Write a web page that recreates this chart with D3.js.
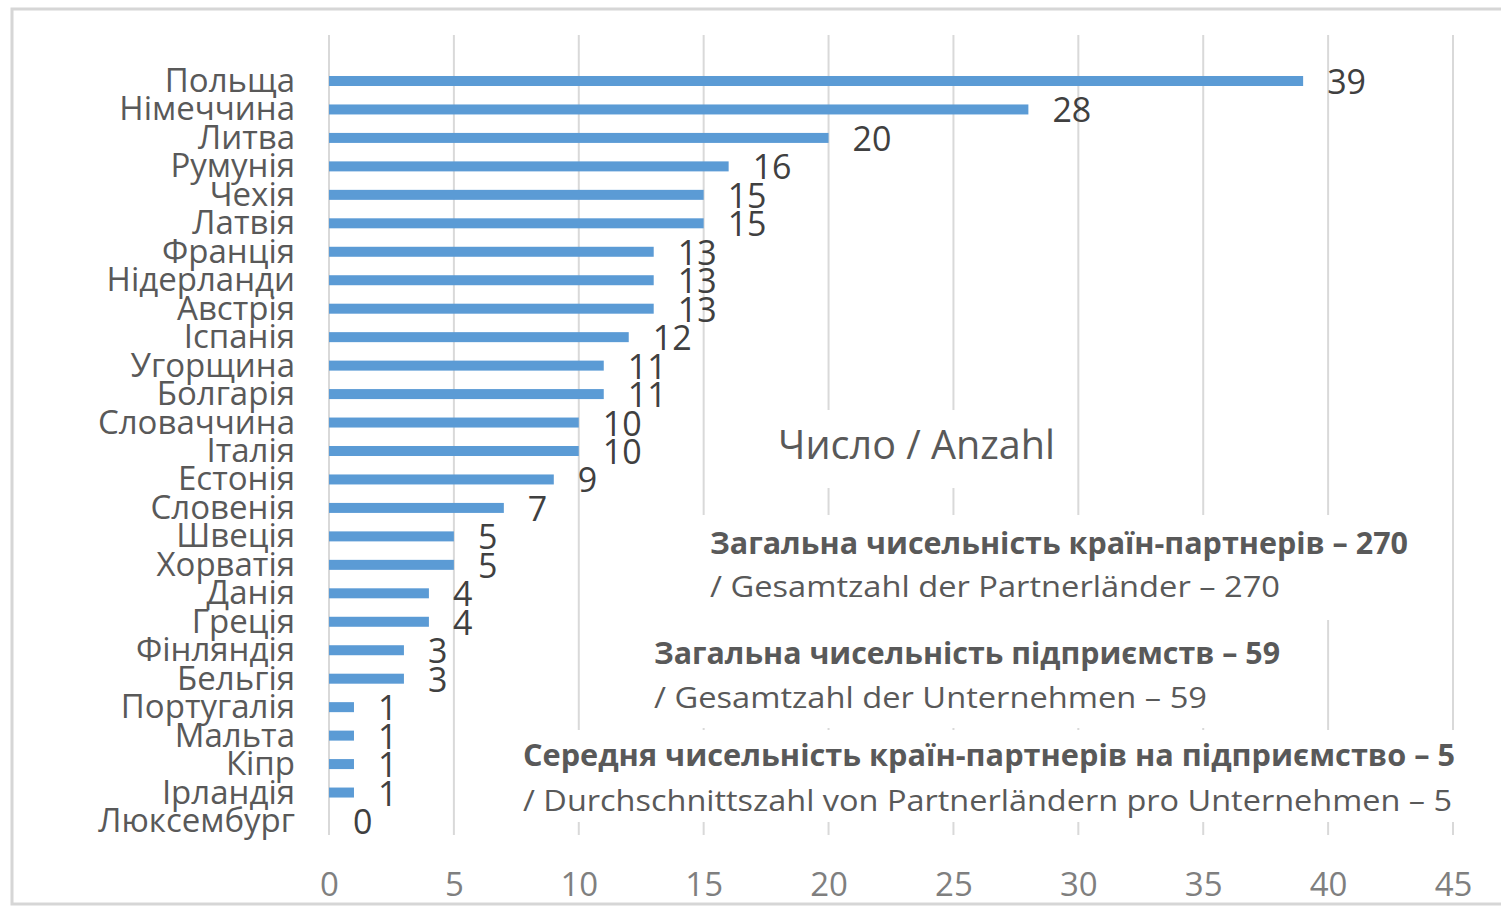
<!DOCTYPE html>
<html>
<head>
<meta charset="utf-8">
<script src="https://cdn.jsdelivr.net/npm/d3@7"></script>
<style>
  body { margin: 0; background: #fff; }
  text { font-family: "Open Sans", "Noto Sans", sans-serif; }
</style>
</head>
<body>
<svg></svg>
<script>
var countries = ["Польща","Німеччина","Литва","Румунія","Чехія","Латвія","Франція","Нідерланди","Австрія","Іспанія","Угорщина","Болгарія","Словаччина","Італія","Естонія","Словенія","Швеція","Хорватія","Данія","Греція","Фінляндія","Бельгія","Португалія","Мальта","Кіпр","Ірландія","Люксембург"]
var values = [39,28,20,16,15,15,13,13,13,12,11,11,10,10,9,7,5,5,4,4,3,3,1,1,1,1,0]
var ticks = [0,5,10,15,20,25,30,35,40,45]
var title = "Число / Anzahl"
var boldLines = ["Загальна чисельність країн-партнерів – 270","Загальна чисельність підприємств – 59","Середня чисельність країн-партнерів на підприємство – 5"]
var plainLines = ["/ Gesamtzahl der Partnerländer – 270","/ Gesamtzahl der Unternehmen – 59","/ Durchschnittszahl von Partnerländern pro Unternehmen – 5"]

var data = countries.map((c,i)=>({country:c, value:values[i]}))

var svg = d3.select("svg")
svg.attr("width",1501).attr("height",906)

// frame
svg.append("rect")
  .attr("x",12).attr("y",9).attr("width",1520).attr("height",895)
  .attr("fill","none").attr("stroke","#d6d6d6").attr("stroke-width",3)

var x = d3.scaleLinear()
  .domain([0,45])
  .range([329,1453])

var y = d3.scalePoint()
  .domain(countries)
  .range([81,821])

// gridlines
svg.selectAll("line.grid")
  .data(ticks)
  .enter()
  .append("line")
  .attr("class","grid")
  .attr("x1",d=>x(d)).attr("x2",d=>x(d))
  .attr("y1",35).attr("y2",835)
  .attr("stroke","#d9d9d9")
  .attr("stroke-width",2)

// bars
svg.selectAll("rect.bar")
  .data(data)
  .enter()
  .append("rect")
  .attr("class","bar")
  .attr("x",x(0))
  .attr("y",d=>y(d.country)-5)
  .attr("width",d=>x(d.value)-x(0))
  .attr("height",10)
  .attr("fill","#5b9bd5")

// category labels
svg.selectAll("text.cat")
  .data(data)
  .enter()
  .append("text")
  .attr("class","cat")
  .text(d=>d.country)
  .attr("x",295)
  .attr("y",d=>y(d.country)+11)
  .attr("text-anchor","end")
  .style("font-size","33px")
  .attr("fill","#595959")

// value labels
svg.selectAll("text.val")
  .data(data)
  .enter()
  .append("text")
  .attr("class","val")
  .text(d=>d.value)
  .attr("x",d=>x(d.value)+24)
  .attr("y",d=>y(d.country)+13)
  .style("font-size","34px")
  .attr("fill","#404040")

// x axis
var axis = svg.append("g")
  .attr("transform","translate(0,873)")
  .call(d3.axisBottom(x).tickValues(ticks).tickSize(0).tickPadding(0))
axis.select(".domain").remove()
axis.selectAll("text")
  .style("font-size","33px")
  .style("font-family","'Open Sans', sans-serif")
  .attr("fill","#7f7f7f")

// title box
svg.append("rect")
  .attr("x",768).attr("y",410).attr("width",296).attr("height",78)
  .attr("fill","#fff")
svg.append("text")
  .text(title)
  .attr("x",778).attr("y",459)
  .attr("textLength",277).attr("lengthAdjust","spacingAndGlyphs")
  .style("font-size","40px")
  .attr("fill","#595959")

// annotation boxes
var boxes = [
  {x:698, y:515, w:724, h:105, tx:710, b1:554, b2:597, w1:698, w2:570},
  {x:646, y:620, w:646, h:108, tx:654, b1:664, b2:708, w1:626, w2:553},
  {x:516, y:730, w:946, h:92, tx:523, b1:766, b2:811, w1:932, w2:929}
]
boxes.forEach((b,i)=>{
  svg.append("rect")
    .attr("x",b.x).attr("y",b.y).attr("width",b.w).attr("height",b.h)
    .attr("fill","#fff")
  svg.append("text")
    .text(boldLines[i])
    .attr("x",b.tx).attr("y",b.b1)
    .attr("textLength",b.w1).attr("lengthAdjust","spacingAndGlyphs")
    .style("font-size","30px")
    .style("font-weight","bold")
    .attr("fill","#595959")
  svg.append("text")
    .text(plainLines[i])
    .attr("x",b.tx).attr("y",b.b2)
    .attr("textLength",b.w2).attr("lengthAdjust","spacingAndGlyphs")
    .style("font-size","30px")
    .attr("fill","#595959")
})
</script>
</body>
</html>
